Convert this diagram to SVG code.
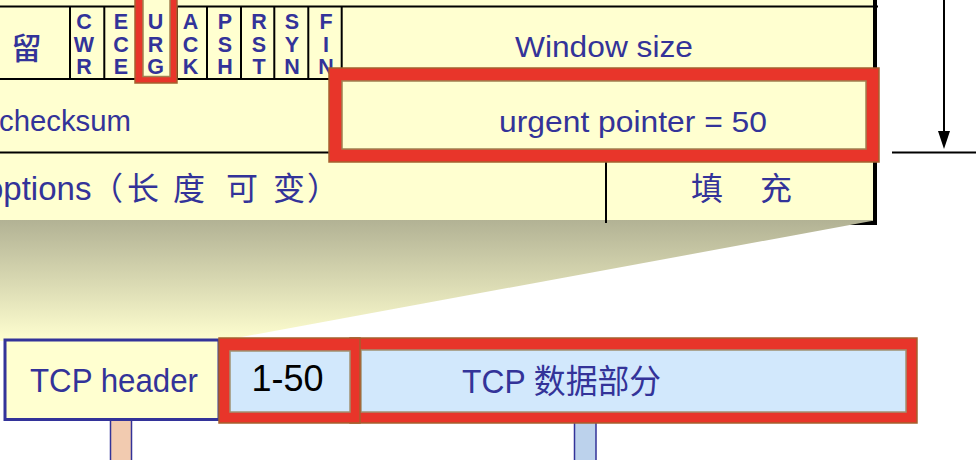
<svg xmlns="http://www.w3.org/2000/svg" width="976" height="460" viewBox="0 0 976 460">
<defs>
<linearGradient id="fade" gradientUnits="userSpaceOnUse" x1="0" y1="220" x2="0" y2="342">
<stop offset="0" stop-color="#B2B294"/>
<stop offset="1" stop-color="#FFFFD0"/>
</linearGradient>
<marker id="arrow" markerUnits="userSpaceOnUse" markerWidth="18" markerHeight="12" refX="9" refY="6" orient="auto" viewBox="0 0 18 12">
<path d="M0,0 L18,6 L0,12 Z" fill="#000"/>
</marker>
</defs>
<style>
.t{font-family:"Liberation Sans",Arial,sans-serif;fill:#333399}
.cjk{font-family:"Liberation Sans","Noto Sans CJK SC",sans-serif;fill:#333399}
.flag{font-family:"Liberation Sans",Arial,sans-serif;font-weight:bold;font-size:21.5px;fill:#333399;text-anchor:middle}
.grid{stroke:#000;stroke-width:2;fill:none}
.red{fill:#E8352A;stroke:#A5602E;stroke-width:1.5}
.iny{fill:#FFFFD0;stroke:#A08050;stroke-width:1.5}
.inb{fill:#D2E8FC;stroke:#A09070;stroke-width:1.5}
.stub{stroke:#333399;stroke-width:1.5}
</style>

<g id="header-table">
<rect x="0" y="0" width="875" height="222" fill="#FFFFD0"/>
<line x1="0" y1="223" x2="877" y2="223" stroke="#000" stroke-width="4"/>
<polygon points="0,220 877,220 220,341 0,341" fill="url(#fade)"/>
<line class="grid" x1="0" y1="6.5" x2="878" y2="6.5"/>
<line class="grid" x1="0" y1="79" x2="876" y2="79"/>
<line class="grid" x1="0" y1="152.5" x2="876" y2="152.5"/>
<path class="grid" d="M70,6.5V79M104.3,6.5V79M139,6.5V79M177,6.5V79M207,6.5V79M241,6.5V79M274.3,6.5V79M308.3,6.5V79M341.7,6.5V152.5M606,152.5V223"/>
<line x1="875" y1="0" x2="875" y2="225" stroke="#000" stroke-width="4"/>
</g>

<g id="reserved">
<text class="cjk" x="26.5" y="59" font-size="30" font-weight="500" text-anchor="middle">留</text>
</g>

<g id="urg-highlight">
<rect class="red" x="135" y="-10" width="42" height="93"/>
<rect class="iny" x="143" y="-10" width="27" height="86.5"/>
</g>

<g id="flags">
<text class="flag"><tspan x="84" y="29">C</tspan><tspan x="84" y="51.5">W</tspan><tspan x="84" y="74">R</tspan></text>
<text class="flag"><tspan x="121" y="29">E</tspan><tspan x="121" y="51.5">C</tspan><tspan x="121" y="74">E</tspan></text>
<text class="flag"><tspan x="155.5" y="29">U</tspan><tspan x="155.5" y="51.5">R</tspan><tspan x="155.5" y="74">G</tspan></text>
<text class="flag"><tspan x="190.5" y="29">A</tspan><tspan x="190.5" y="51.5">C</tspan><tspan x="190.5" y="74">K</tspan></text>
<text class="flag"><tspan x="225" y="29">P</tspan><tspan x="225" y="51.5">S</tspan><tspan x="225" y="74">H</tspan></text>
<text class="flag"><tspan x="259" y="29">R</tspan><tspan x="259" y="51.5">S</tspan><tspan x="259" y="74">T</tspan></text>
<text class="flag"><tspan x="292" y="29">S</tspan><tspan x="292" y="51.5">Y</tspan><tspan x="292" y="74">N</tspan></text>
<text class="flag"><tspan x="326" y="29">F</tspan><tspan x="326" y="51.5">I</tspan><tspan x="326" y="74">N</tspan></text>
</g>

<g id="window-size">
<text class="t" x="515" y="57" font-size="30" textLength="178" lengthAdjust="spacingAndGlyphs">Window size</text>
</g>

<g id="checksum">
<text class="t" x="-1" y="131" font-size="30" textLength="132" lengthAdjust="spacingAndGlyphs">checksum</text>
</g>

<g id="urgent-pointer">
<rect class="red" x="329" y="68" width="550" height="94"/>
<rect class="iny" x="342" y="81" width="524" height="68"/>
<text class="t" x="499" y="132" font-size="29.5" textLength="268" lengthAdjust="spacingAndGlyphs">urgent pointer = 50</text>
</g>

<g id="options">
<text class="cjk" y="200"><tspan x="-15" font-size="33">options</tspan><tspan x="91" font-size="32">（</tspan><tspan x="127" font-size="32">长</tspan><tspan x="173" font-size="32">度</tspan><tspan x="226" font-size="32">可</tspan><tspan x="273" font-size="32">变</tspan><tspan x="307" font-size="32">）</tspan></text>
</g>

<g id="padding">
<text class="cjk" y="200" font-size="32"><tspan x="691">填</tspan><tspan x="760">充</tspan></text>
</g>

<g id="connectors">
<line x1="944" y1="0" x2="944" y2="140" stroke="#000" stroke-width="2" marker-end="url(#arrow)"/>
<line x1="892" y1="152.5" x2="976" y2="152.5" stroke="#000" stroke-width="2"/>
<rect class="stub" x="110.5" y="419" width="21" height="45" fill="#F2CBB0"/>
<rect class="stub" x="574.5" y="420" width="21.5" height="45" fill="#BCD2EC"/>
</g>

<g id="tcp-header">
<rect x="5" y="340" width="214" height="79.5" fill="#FFFFD0" stroke="#333399" stroke-width="3"/>
<text class="t" x="30" y="391.7" font-size="32.7" textLength="168" lengthAdjust="spacingAndGlyphs">TCP header</text>
</g>

<g id="tcp-data">
<rect class="red" x="350" y="338" width="567" height="85"/>
<rect class="inb" x="361" y="350" width="545" height="62"/>
<text class="cjk" x="462" y="393" font-size="33" textLength="199" lengthAdjust="spacingAndGlyphs">TCP 数据部分</text>
</g>

<g id="urgent-data">
<rect class="red" x="219" y="338" width="141" height="85"/>
<rect class="inb" x="230" y="351" width="120" height="61"/>
<text x="287.5" y="390.7" font-family="Liberation Sans, Arial, sans-serif" font-size="36" fill="#000" text-anchor="middle">1-50</text>
</g>
</svg>
